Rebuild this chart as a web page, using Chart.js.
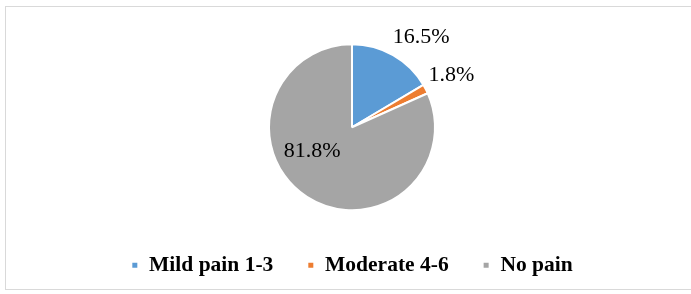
<!DOCTYPE html>
<html>
<head>
<meta charset="utf-8">
<script src="https://cdn.jsdelivr.net/npm/chart.js@4.4.1/dist/chart.umd.min.js"></script>
<style>
  html, body { margin: 0; padding: 0; background: #fff; }
  #wrap { position: relative; width: 691px; height: 294px; overflow: hidden; }
  #frame {
    position: absolute; left: 5px; top: 6px; width: 700px; height: 284px;
    border: 1px solid #d9d9d9; box-sizing: border-box;
  }
  #painChart { position: absolute; left: 0; top: 0; }
</style>
</head>
<body>
<div id="wrap">
  <div id="frame"></div>
  <canvas id="painChart" width="691" height="294"></canvas>
</div>
<script>
// Data
const categories = ["Mild pain 1-3", "Moderate 4-6", "No pain"];
const percentages = [16.5, 1.8, 81.8];
const labelTexts = ["16.5%", "1.8%", "81.8%"];

const sliceColors = ["#5b9bd5", "#ed7d31", "#a5a5a5"];

// where each percentage label sits: turn from slice middle (deg) and distance (x radius)
const labelPlacement = [
  { turn: 7.8, dist: 1.37 },
  { turn: 0, dist: 1.35 },
  { turn: 26, dist: 0.56 }
];

const pieLabels = {
  id: "pieLabels",
  afterDatasetsDraw(chart) {
    const ctx = chart.ctx;
    const arcs = chart.getDatasetMeta(0).data;
    ctx.save();
    ctx.font = "22px 'Liberation Serif', 'Times New Roman', serif";
    ctx.fillStyle = "#000";
    ctx.textAlign = "center";
    ctx.textBaseline = "middle";
    arcs.forEach((arc, i) => {
      const p = arc.getProps(["x", "y", "startAngle", "endAngle", "outerRadius"], true);
      const mid = (p.startAngle + p.endAngle) / 2 + labelPlacement[i].turn * Math.PI / 180;
      const r = p.outerRadius * labelPlacement[i].dist;
      ctx.fillText(labelTexts[i], p.x + Math.cos(mid) * r, p.y + Math.sin(mid) * r);
    });
    ctx.restore();
  }
};

const ctx = document.getElementById("painChart").getContext("2d");
new Chart(ctx, {
  type: "pie",
  data: {
    labels: categories,
    datasets: [{
      data: percentages,
      backgroundColor: sliceColors,
      borderColor: "#ffffff",
      borderWidth: 2,
      radius: 83
    }]
  },
  options: {
    responsive: false,
    animation: false,
    layout: { padding: { left: 13, top: 34, bottom: 8 } },
    plugins: {
      tooltip: { enabled: false },
      legend: {
        position: "bottom",
        labels: {
          boxWidth: 7,
          boxHeight: 7,
          padding: 34,
          color: "#000",
          font: { family: "'Liberation Serif', 'Times New Roman', serif", size: 21.5, weight: "bold" }
        }
      }
    }
  },
  plugins: [pieLabels]
});
</script>
</body>
</html>
